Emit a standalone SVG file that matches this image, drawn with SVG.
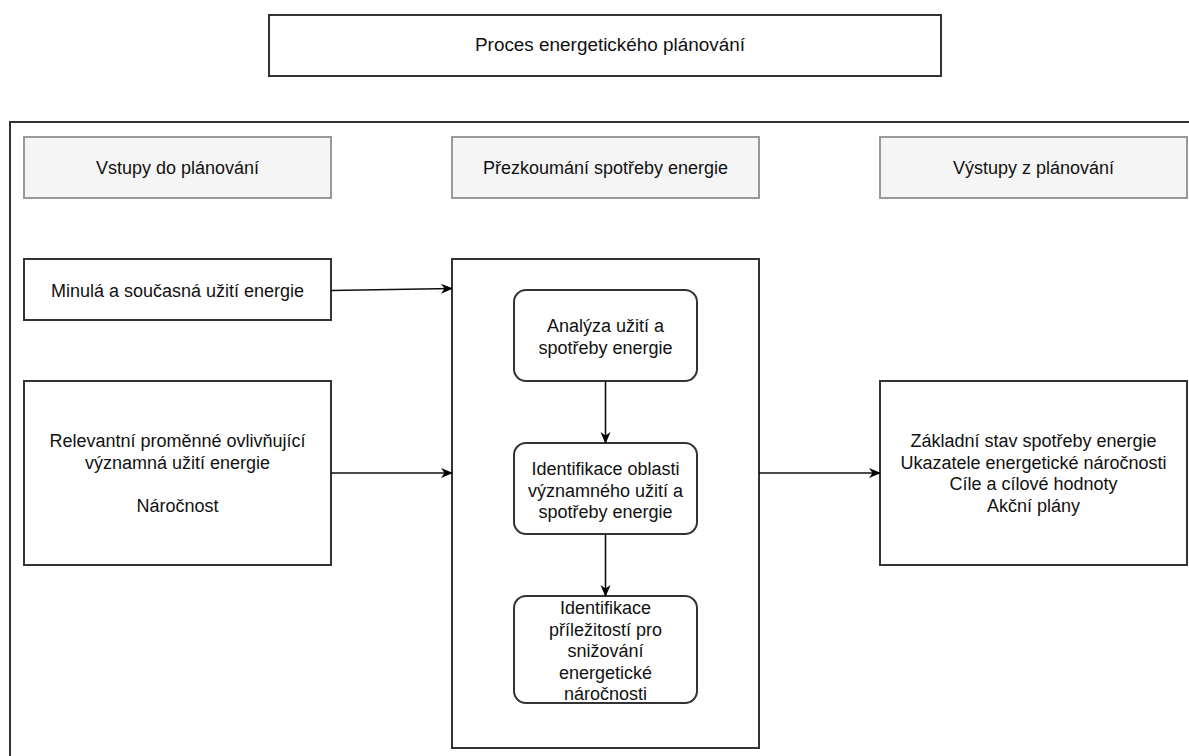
<svg xmlns="http://www.w3.org/2000/svg" width="1189" height="756" viewBox="0 0 1189 756">
<defs>
<marker id="arr" viewBox="0 0 12 12" refX="11" refY="6" markerWidth="12" markerHeight="12" markerUnits="userSpaceOnUse" orient="auto">
<path d="M0,1 L12,6 L0,11 L3.5,6 Z" fill="#000"/>
</marker>
<style>
.t{font-family:"Liberation Sans",Arial,sans-serif;font-size:18px;fill:#111;text-anchor:middle}
.box{fill:#fff;stroke:#333;stroke-width:2}
.hdr{fill:#f5f5f5;stroke:#999;stroke-width:2}
.rbox{fill:#fff;stroke:#333;stroke-width:2}
.con{fill:none;stroke:#111;stroke-width:1.6;marker-end:url(#arr)}
</style>
</defs>
<rect width="1189" height="756" fill="#fff"/>
<g id="title"><rect class="box" x="269" y="15" width="672" height="61"/><text class="t" x="610" y="51" textLength="270" lengthAdjust="spacingAndGlyphs">Proces energetického plánování</text></g>
<g id="frame"><path d="M10,760 L10,122 L1195,122" fill="none" stroke="#333" stroke-width="2"/></g>
<g id="hdr-in"><rect class="hdr" x="24" y="137" width="307" height="61"/><text class="t" x="177.5" y="174">Vstupy do plánování</text></g>
<g id="hdr-rev"><rect class="hdr" x="452" y="137" width="307" height="61"/><text class="t" x="605.5" y="174">Přezkoumání spotřeby energie</text></g>
<g id="hdr-out"><rect class="hdr" x="880" y="137" width="307" height="61"/><text class="t" x="1033.5" y="174">Výstupy z plánování</text></g>
<g id="past"><rect class="box" x="24" y="259" width="307" height="61"/><text class="t" x="177.5" y="297">Minulá a současná užití energie</text></g>
<g id="vars"><rect class="box" x="24" y="381" width="307" height="184"/><text class="t" x="177.5"><tspan x="177.5" y="447">Relevantní proměnné ovlivňující</tspan><tspan x="177.5" y="469">významná užití energie</tspan><tspan x="177.5" y="512">Náročnost</tspan></text></g>
<g id="review"><rect class="box" x="452" y="259" width="307" height="489"/></g>
<g id="analysis"><rect class="rbox" x="514" y="290" width="183" height="91" rx="12"/><text class="t"><tspan x="605.5" y="332">Analýza užití a</tspan><tspan x="605.5" y="354">spotřeby energie</tspan></text></g>
<g id="identify"><rect class="rbox" x="514" y="443" width="183" height="91" rx="12"/><text class="t"><tspan x="605.5" y="475">Identifikace oblasti</tspan><tspan x="605.5" y="497">významného užití a</tspan><tspan x="605.5" y="518">spotřeby energie</tspan></text></g>
<g id="opport"><rect class="rbox" x="514" y="596" width="183" height="107" rx="12"/><text class="t"><tspan x="605.5" y="614">Identifikace</tspan><tspan x="605.5" y="636">příležitostí pro</tspan><tspan x="605.5" y="657">snižování</tspan><tspan x="605.5" y="679">energetické</tspan><tspan x="605.5" y="700">náročnosti</tspan></text></g>
<g id="outputs"><rect class="box" x="880" y="381" width="307" height="184"/><text class="t"><tspan x="1033.5" y="447">Základní stav spotřeby energie</tspan><tspan x="1033.5" y="469">Ukazatele energetické náročnosti</tspan><tspan x="1033.5" y="490">Cíle a cílové hodnoty</tspan><tspan x="1033.5" y="512">Akční plány</tspan></text></g>
<g id="connectors">
<path class="con" d="M331,290.5 L452,288.5"/>
<path class="con" d="M331,473 L452,473"/>
<path class="con" d="M759,473 L880,473"/>
<path class="con" d="M605.5,381 L605.5,443"/>
<path class="con" d="M605.5,534 L605.5,596"/>
</g>
</svg>
